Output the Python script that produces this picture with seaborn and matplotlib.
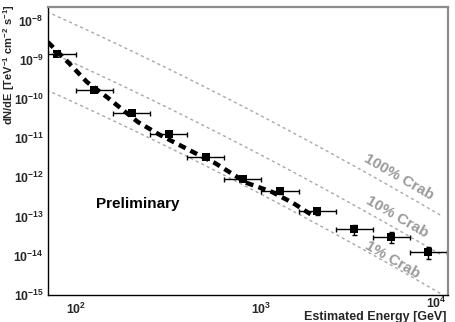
import numpy as np
import pandas as pd
import seaborn as sns
import matplotlib
matplotlib.use("Agg")
import matplotlib.pyplot as plt
from matplotlib.ticker import LogLocator, LogFormatterMathtext, NullFormatter

# measured spectrum (GeV, TeV^-1 cm^-2 s^-1)
energy = [79.4, 125.9, 199.5, 316.2, 501.2, 794.3, 1258.9, 1995.3, 3162.3, 5011.9, 7943.3]
bin_lo = [63.1, 100.0, 158.5, 251.2, 398.1, 631.0, 1000.0, 1584.9, 2511.9, 3981.1, 6309.6]
bin_hi = [100.0, 158.5, 251.2, 398.1, 631.0, 1000.0, 1584.9, 2511.9, 3981.1, 6309.6, 10000.0]
flux = [1.41e-9, 1.70e-10, 4.40e-11, 1.28e-11, 3.31e-12, 9.10e-13, 4.50e-13,
        1.39e-13, 4.83e-14, 3.02e-14, 1.25e-14]
flux_rel_err = [0.06, 0.05, 0.05, 0.06, 0.08, 0.10, 0.14, 0.22, 0.30, 0.30, 0.32]

# fitted spectrum (thick dashed line)
fit_energy = [70.6, 91.6, 114.6, 146.9, 215.8, 283.8, 427.6, 561.0, 835.6, 1140.0, 1479.0, 1941.0]
fit_flux = [2.84e-9, 8.28e-10, 2.72e-10, 1.12e-10, 2.59e-11, 1.21e-11, 4.45e-12,
            2.33e-12, 7.19e-13, 4.25e-13, 2.22e-13, 9.77e-14]

# Crab reference (log-parabola)
crab_e0 = 300.0
crab_norm = 6.6e-10
crab_index = 2.32
crab_curv = 0.15
crab_levels = [1.0, 0.1, 0.01]
crab_labels = ["100% Crab", "10% Crab", "1% Crab"]
crab_label_e = [5500.0, 5370.0, 5060.0]
crab_label_up = [0.35, 0.31, 0.16]


def crab(e):
    u = np.log10(np.asarray(e) / crab_e0)
    return crab_norm * 10 ** (-crab_index * u - crab_curv * u ** 2)


sns.set_theme(style="white")
plt.rcParams["font.family"] = ["Liberation Sans", "DejaVu Sans"]
plt.rcParams["font.weight"] = "bold"
plt.rcParams["mathtext.fontset"] = "custom"
plt.rcParams["mathtext.rm"] = "Liberation Sans:bold"
plt.rcParams["mathtext.it"] = "Liberation Sans:bold"
plt.rcParams["mathtext.bf"] = "Liberation Sans:bold"
plt.rcParams["mathtext.default"] = "rm"

fig = plt.figure(figsize=(4.56, 3.22), dpi=100)
ax = fig.add_axes([0.105, 0.084, 0.877, 0.894])
ax.set_xscale("log")
ax.set_yscale("log")

e_grid = np.geomspace(65, 9400, 200)
for lvl, lab, el, up in zip(crab_levels, crab_labels, crab_label_e, crab_label_up):
    sns.lineplot(x=e_grid, y=crab(e_grid) * lvl, ax=ax, color="#a8a8a8", lw=1.0,
                 linestyle=(0, (2.2, 2.2)), sort=False)
    ax.text(el, crab(el) * lvl * 10 ** up, lab, color="#9a9a9a", fontsize=11,
            fontweight="bold", rotation=-30, rotation_mode="anchor",
            ha="center", va="center")

fit_df = pd.DataFrame({"E": fit_energy, "F": fit_flux})
sns.lineplot(data=fit_df, x="E", y="F", ax=ax, color="black", lw=3.2,
             linestyle=(0, (1.7, 1.2)), sort=False, dash_capstyle="butt")

e = np.array(energy)
f = np.array(flux)
ax.errorbar(e, f, xerr=[e - np.array(bin_lo), np.array(bin_hi) - e],
            yerr=f * np.array(flux_rel_err), fmt="none", ecolor="black",
            elinewidth=1.0, capsize=1.8, capthick=1.0)
sns.scatterplot(x=energy, y=flux, ax=ax, marker="s", color="black", s=30,
                edgecolor="black", linewidth=0)

ax.set_xlabel("")
ax.set_ylabel("")
ax.set_xlim(70.6, 10100)
ax.set_ylim(1e-15, 2.22e-8)

ax.xaxis.set_major_locator(LogLocator(base=10, numticks=10))
ax.xaxis.set_major_formatter(LogFormatterMathtext())
ax.xaxis.set_minor_locator(LogLocator(base=10, subs=np.arange(2, 10), numticks=20))
ax.xaxis.set_minor_formatter(NullFormatter())
ax.yaxis.set_major_locator(LogLocator(base=10, numticks=20))
ax.yaxis.set_major_formatter(LogFormatterMathtext())
ax.yaxis.set_minor_locator(LogLocator(base=10, subs=np.arange(2, 10), numticks=40))
ax.yaxis.set_minor_formatter(NullFormatter())

ax.tick_params(axis="both", which="both", direction="in", color="black",
               top=False, right=False, labelsize=8.8)
ax.tick_params(axis="y", which="major", length=8.5, width=0.9, pad=3)
ax.tick_params(axis="y", which="minor", length=4.5, width=0.7)
ax.tick_params(axis="x", which="major", length=6, width=0.9, pad=5)
ax.tick_params(axis="x", which="minor", length=3.5, width=0.7)

for s in ["left", "bottom"]:
    ax.spines[s].set_color("black")
    ax.spines[s].set_linewidth(1.0)
for s in ["top", "right"]:
    ax.spines[s].set_color("#8c8c8c")
    ax.spines[s].set_linewidth(1.6)

fig.canvas.draw()
for lbl in ax.get_xticklabels():
    if lbl.get_position()[0] >= 9000:
        lbl.set_horizontalalignment("right")
        lbl.set_y(0.02)

fig.text(447 / 456, 1 - 317 / 322, "Estimated Energy [GeV]", fontsize=9,
         fontweight="bold", ha="right", va="center")
fig.text(9 / 456, 1 - 4 / 322, r"dN/dE [TeV$^{-1}$ cm$^{-2}$ s$^{-1}$]", fontsize=8,
         fontweight="bold", rotation=90, ha="center", va="top")

ax.text(0.225, 0.316, "Preliminary", transform=ax.transAxes, fontsize=11,
        fontweight="bold", color="black", ha="center", va="center")

fig.savefig("out.png", dpi=100)
